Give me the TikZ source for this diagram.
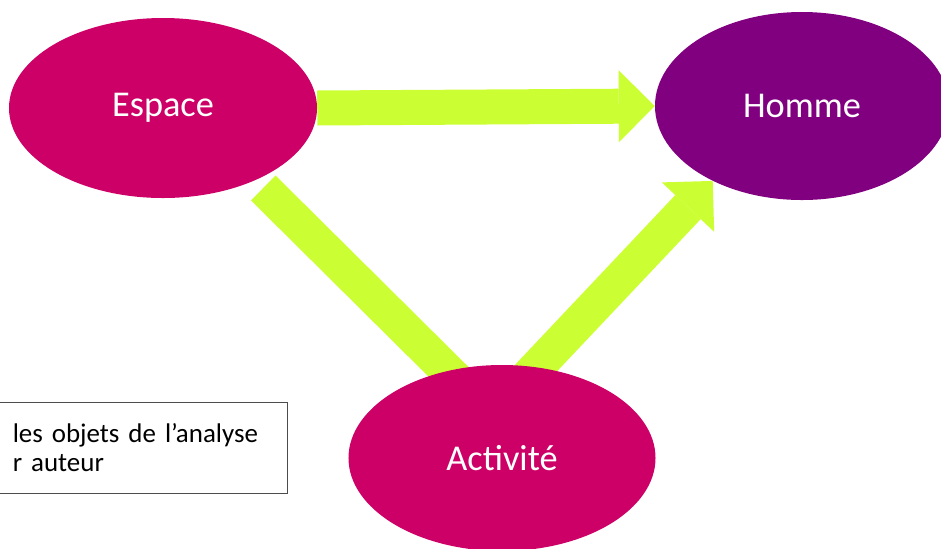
\documentclass[tikz,border=0pt]{standalone}
\usepackage{fontspec}
\setmainfont{Carlito}
\usepackage{tikz}
\usetikzlibrary{arrows.meta,backgrounds,shapes.geometric}
\definecolor{framboise}{HTML}{CC0066}
\definecolor{prune}{HTML}{800080}
\definecolor{anis}{HTML}{CCFF33}
\tikzstyle{pole} = [ellipse, inner sep=0pt, text=white, font=\fontsize{31}{37}\selectfont]
\tikzstyle{fleche} = [draw=anis, line width=1.05cm, -{Triangle[length=1.08cm, width=2.16cm, line width=0pt]}]
\tikzstyle{barre} = [draw=anis, line width=1.05cm]
\tikzstyle{legende} = [align=left, inner sep=0pt, font=\fontsize{23}{24.8}\selectfont]
\tikzstyle{cadre} = [draw=black!70, line width=0.6pt]

\begin{document}
\begin{tikzpicture}[x=0.03cm, y=-0.03cm]
	\useasboundingbox (0,0) rectangle (941,548);
	\node[pole, fill=framboise, minimum width=9.24cm, minimum height=5.4cm] (espace) at (163,108) {Espace};
	\node[pole, fill=prune, minimum width=8.82cm, minimum height=5.64cm] (homme) at (802,106) {Homme};
	\node[pole, fill=framboise, minimum width=9.21cm, minimum height=5.58cm] (activite) at (502,458) {Activité};
	\begin{scope}[on background layer]
		\draw[fleche] (espace.east) -- (homme.west);
		\draw[barre, shorten <=0.33cm, shorten >=-0.6cm] (espace.-38) -- (activite.122);
		\draw[fleche, shorten <=-0.6cm] (activite.69) -- (homme.220);
	\end{scope}
	\node[legende, anchor=north east, text width=9.9cm, minimum height=2.73cm] (legende) at (287,402) {\hspace*{1.68cm}\mbox{les objets de l’analyse}\\\hspace*{1.68cm}r auteur};
	\draw[cadre] (legende.north west) -- (legende.north east) -- (legende.south east) -- (legende.south west);
\end{tikzpicture}
\end{document}
